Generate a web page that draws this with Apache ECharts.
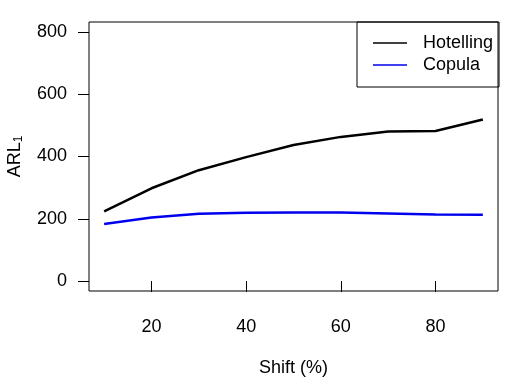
<!DOCTYPE html>
<html>
<head>
<meta charset="utf-8">
<script src="https://cdn.jsdelivr.net/npm/echarts@6/dist/echarts.min.js"></script>
<style>html,body{margin:0;padding:0;background:#fff}#c{width:529px;height:388px}</style>
</head>
<body>
<div id="c"></div>
<script>
const shift = [10, 20, 30, 40, 50, 60, 70, 80, 90];
const hotelling = [224, 298, 356, 398, 437, 463, 480, 482, 519];
const copula = [183, 204, 216, 219, 220, 220, 217, 214, 213];
const xTicks = [20, 40, 60, 80];
const yTicks = [0, 200, 400, 600, 800];
const seriesNames = ['Hotelling', 'Copula'];

const FONT = '"Liberation Sans", Arial, sans-serif';
const FS = 18;
const chart = echarts.init(document.getElementById('c'), null, {renderer: 'canvas'});
chart.setOption({
  animation: false,
  backgroundColor: '#fff',
  textStyle: {fontFamily: FONT, color: '#000'},
  grid: {left: 89, right: 31, top: 22, bottom: 97, show: true, borderColor: '#000', borderWidth: 1,
         backgroundColor: 'transparent', containLabel: false, outerBoundsMode: 'none'},
  legend: {
    orient: 'vertical', left: 357, top: 22,
    padding: [12, 6, 13, 16],
    borderColor: '#000', borderWidth: 1, borderRadius: 0,
    itemWidth: 34, itemHeight: 1.5, itemGap: 4,
    icon: 'rect',
    textStyle: {fontSize: FS, fontFamily: FONT, color: '#000', padding: [0, 0, 0, 11]},
    data: seriesNames
  },
  xAxis: {
    type: 'value', min: 6.8, max: 93.2,
    name: 'Shift (%)', nameLocation: 'middle', nameGap: 68,
    nameTextStyle: {fontSize: FS, fontFamily: FONT, color: '#000'},
    axisLine: {show: false},
    splitLine: {show: false},
    axisTick: {show: true, length: 11, inside: false, customValues: xTicks, lineStyle: {color: '#000', width: 1}},
    axisLabel: {customValues: xTicks, margin: 27, fontSize: FS, fontFamily: FONT, color: '#000'}
  },
  yAxis: {
    type: 'value', min: -32, max: 832,
    name: '{a|ARL}{s|1}', nameLocation: 'middle', nameGap: 64, nameRotate: 90,
    nameTextStyle: {fontSize: FS, fontFamily: FONT, color: '#000',
      rich: {a: {fontSize: FS, fontFamily: FONT, color: '#000'}, s: {fontSize: 12, fontFamily: FONT, color: '#000', padding: [8, 0, 0, 0]}}},
    axisLine: {show: false},
    splitLine: {show: false},
    axisTick: {show: true, length: 11, inside: false, customValues: yTicks, lineStyle: {color: '#000', width: 1}},
    axisLabel: {customValues: yTicks, margin: 22, fontSize: FS, fontFamily: FONT, color: '#000'}
  },
  series: [
    {name: seriesNames[0], type: 'line', data: shift.map((x, i) => [x, hotelling[i]]), symbol: 'none',
     itemStyle: {color: '#000'}, lineStyle: {color: '#000', width: 2.5}},
    {name: seriesNames[1], type: 'line', data: shift.map((x, i) => [x, copula[i]]), symbol: 'none',
     itemStyle: {color: '#0000ee'}, lineStyle: {color: '#0000ee', width: 2.5}}
  ]
});
</script>
</body>
</html>
